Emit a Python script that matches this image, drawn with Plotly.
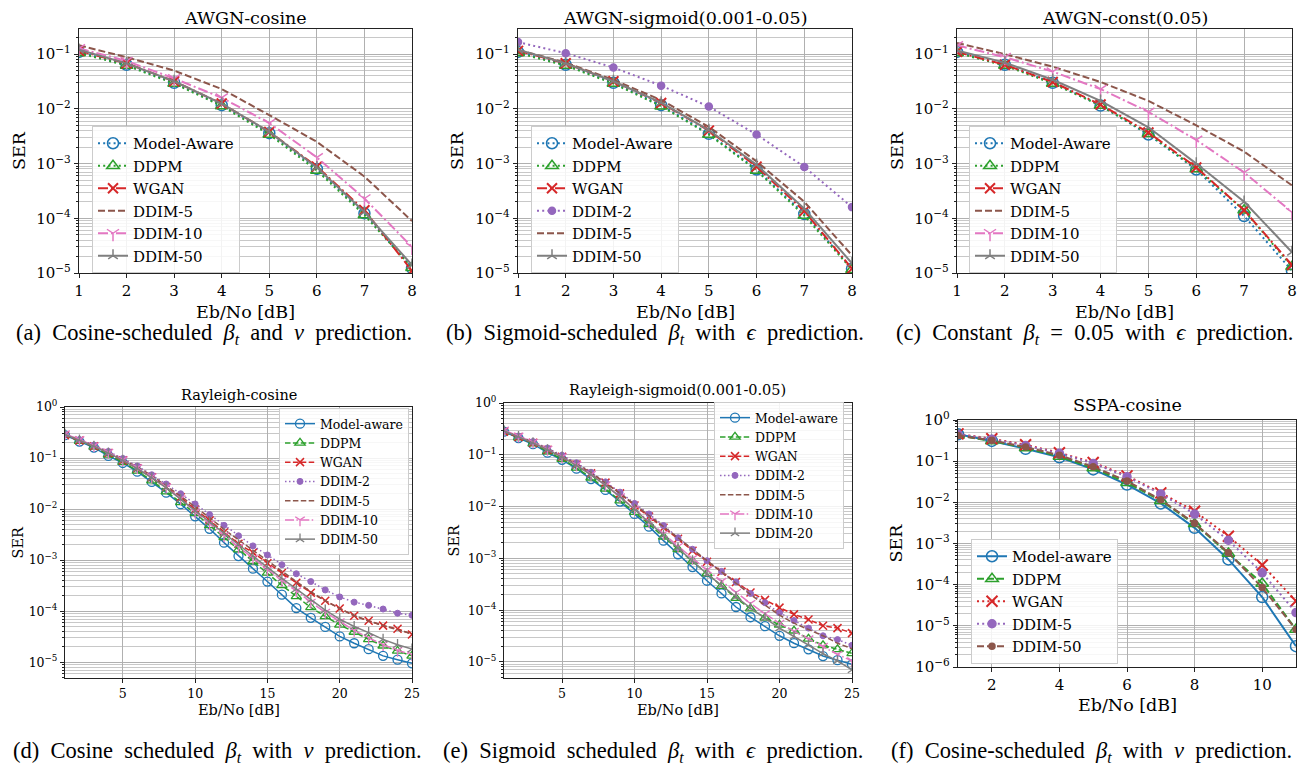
import plotly.graph_objects as go

W, H = 1312, 769
OFF = 8  # page body margin: the figure is drawn 8px right/down of the window corner
SERIF = "DejaVu Serif"
CAPF = "Liberation Serif"

# ---------------- data ----------------
x_awgn = [1, 2, 3, 4, 5, 6, 7, 8]
x_ray = list(range(1, 26))
x_sspa = [1, 2, 3, 4, 5, 6, 7, 8, 9, 10, 11]

# (a) AWGN-cosine
a_model = [0.11, 0.064, 0.030, 0.0117, 0.0036, 0.00080, 0.000123, 1.23e-5]
a_ddpm = [0.105, 0.062, 0.029, 0.0113, 0.0034, 0.00075, 0.000115, 1.25e-5]
a_wgan = [0.115, 0.068, 0.032, 0.0125, 0.0038, 0.00088, 0.00014, 1.1e-5]
a_ddim5 = [0.145, 0.088, 0.050, 0.023, 0.0077, 0.0025, 0.00058, 8.9e-5]
a_ddim10 = [0.128, 0.075, 0.036, 0.016, 0.0055, 0.0013, 0.00023, 3.0e-5]
a_ddim50 = [0.12, 0.068, 0.032, 0.0125, 0.0038, 0.00085, 0.00013, 1.4e-5]

# (b) AWGN-sigmoid(0.001-0.05)
b_model = [0.11, 0.064, 0.030, 0.0117, 0.0035, 0.00078, 0.00012, 1.2e-5]
b_ddpm = [0.105, 0.062, 0.029, 0.0112, 0.0034, 0.00075, 0.000112, 1.15e-5]
b_wgan = [0.115, 0.068, 0.032, 0.0128, 0.0040, 0.00088, 0.000135, 1.2e-5]
b_ddim2 = [0.166, 0.104, 0.057, 0.0266, 0.011, 0.0034, 0.00087, 0.00016]
b_ddim5 = [0.12, 0.07, 0.034, 0.0145, 0.0047, 0.0011, 0.0002, 2.1e-5]
b_ddim50 = [0.12, 0.068, 0.032, 0.013, 0.0041, 0.00095, 0.00015, 1.5e-5]

# (c) AWGN-const(0.05)
c_model = [0.11, 0.064, 0.030, 0.0115, 0.0034, 0.00078, 0.00011, 1.1e-5]
c_ddpm = [0.105, 0.062, 0.029, 0.0115, 0.0035, 0.0008, 0.00014, 1.3e-5]
c_wgan = [0.11, 0.064, 0.031, 0.012, 0.0037, 0.00085, 0.00014, 1.4e-5]
c_ddim5 = [0.16, 0.10, 0.059, 0.031, 0.014, 0.005, 0.00165, 0.0004]
c_ddim10 = [0.145, 0.088, 0.048, 0.023, 0.0088, 0.0027, 0.00069, 0.000129]
c_ddim50 = [0.117, 0.07, 0.034, 0.014, 0.0046, 0.001, 0.0002, 2.4e-5]

# (d) Rayleigh-cosine
d_model = [0.28, 0.21, 0.16, 0.11, 0.08, 0.054, 0.034, 0.021, 0.0125, 0.0072, 0.0041, 0.0022, 0.0012,
           0.00068, 0.00038, 0.00021, 0.000115, 7.4e-5, 4.9e-5, 3.2e-5, 2.35e-5, 1.8e-5, 1.33e-5, 1.12e-5, 9.5e-6]
d_ddpm = [0.28, 0.215, 0.165, 0.115, 0.083, 0.056, 0.036, 0.022, 0.0135, 0.0083, 0.0048, 0.0028, 0.0016,
          0.00094, 0.00056, 0.00032, 0.000195, 0.000118, 7.9e-5, 5.4e-5, 3.9e-5, 2.8e-5, 2.1e-5, 1.66e-5, 1.33e-5]
d_wgan = [0.28, 0.22, 0.17, 0.125, 0.09, 0.063, 0.042, 0.027, 0.017, 0.0098, 0.006, 0.0035, 0.0021,
          0.0014, 0.00087, 0.00056, 0.00036, 0.00023, 0.00016, 0.000113, 8.1e-5, 6.5e-5, 5.2e-5, 4.5e-5, 3.5e-5]
d_ddim2 = [0.29, 0.23, 0.18, 0.135, 0.098, 0.07, 0.047, 0.031, 0.02, 0.0126, 0.0078, 0.0048, 0.003,
           0.0019, 0.00126, 0.00081, 0.00054, 0.00038, 0.00026, 0.00019, 0.00015, 0.00013, 0.00011, 9.1e-5, 8.3e-5]
d_ddim5 = [0.29, 0.225, 0.175, 0.13, 0.095, 0.067, 0.045, 0.029, 0.018, 0.011, 0.0068, 0.004, 0.0025,
           0.0015, 0.00095, 0.0006, 0.00038, 0.00024, 0.00016, 0.000112, 8.2e-5, 6.4e-5, 5.2e-5, 4.3e-5, 3.6e-5]
d_ddim10 = [0.3, 0.23, 0.175, 0.13, 0.093, 0.065, 0.043, 0.027, 0.016, 0.0088, 0.0052, 0.003, 0.0018,
            0.0011, 0.00065, 0.0004, 0.00025, 0.00015, 9.5e-5, 6.2e-5, 4.2e-5, 3.0e-5, 2.2e-5, 1.7e-5, 1.4e-5]
d_ddim50 = [0.29, 0.225, 0.17, 0.125, 0.09, 0.062, 0.041, 0.026, 0.0155, 0.0092, 0.0055, 0.0033, 0.002,
            0.0012, 0.00072, 0.00044, 0.00027, 0.000165, 0.000105, 7.0e-5, 5.0e-5, 3.8e-5, 2.8e-5, 2.2e-5, 1.8e-5]

# (e) Rayleigh-sigmoid(0.001-0.05)
e_model = [0.28, 0.21, 0.16, 0.11, 0.08, 0.054, 0.034, 0.021, 0.0125, 0.0072, 0.0041, 0.0022, 0.0012,
           0.00068, 0.00037, 0.00021, 0.000115, 7.3e-5, 4.9e-5, 3.2e-5, 2.3e-5, 1.75e-5, 1.3e-5, 1.08e-5, 9.0e-6]
e_ddpm = [0.28, 0.215, 0.165, 0.115, 0.083, 0.056, 0.036, 0.022, 0.013, 0.0078, 0.0046, 0.0026, 0.0015,
          0.00088, 0.00051, 0.00029, 0.00017, 0.000107, 7.1e-5, 5.2e-5, 4.0e-5, 2.8e-5, 2.1e-5, 1.75e-5, 1.47e-5]
e_wgan = [0.28, 0.22, 0.17, 0.125, 0.092, 0.065, 0.044, 0.029, 0.018, 0.0105, 0.0064, 0.0039, 0.0024,
          0.0014, 0.00086, 0.00055, 0.00035, 0.00022, 0.000158, 0.000112, 8.3e-5, 6.6e-5, 5.0e-5, 4.5e-5, 3.6e-5]
e_ddim2 = [0.29, 0.23, 0.18, 0.135, 0.098, 0.07, 0.046, 0.03, 0.019, 0.0115, 0.0072, 0.0043, 0.0025,
           0.0015, 0.0009, 0.00056, 0.00035, 0.00021, 0.000139, 8.9e-5, 6.3e-5, 4.5e-5, 3.2e-5, 2.7e-5, 2.1e-5]
e_ddim5 = [0.29, 0.225, 0.175, 0.13, 0.095, 0.067, 0.045, 0.029, 0.018, 0.011, 0.0068, 0.0041, 0.0025,
           0.0015, 0.0009, 0.00055, 0.00033, 0.0002, 0.000125, 8.0e-5, 5.6e-5, 4.2e-5, 3.2e-5, 2.3e-5, 1.8e-5]
e_ddim10 = [0.3, 0.23, 0.175, 0.128, 0.092, 0.064, 0.042, 0.026, 0.0155, 0.009, 0.0052, 0.003, 0.0017,
            0.001, 0.0006, 0.00036, 0.00022, 0.000135, 8.5e-5, 5.6e-5, 3.9e-5, 2.8e-5, 2.0e-5, 1.4e-5, 1.05e-5]
e_ddim20 = [0.29, 0.225, 0.17, 0.125, 0.09, 0.062, 0.041, 0.026, 0.0155, 0.0088, 0.005, 0.0028, 0.0016,
            0.0009, 0.0005, 0.0003, 0.00018, 0.00011, 7.0e-5, 4.5e-5, 3.1e-5, 2.1e-5, 1.45e-5, 1.05e-5, 7.0e-6]

# (f) SSPA-cosine
f_model = [0.45, 0.31, 0.2, 0.124, 0.063, 0.027, 0.0094, 0.0024, 0.00041, 5.0e-5, 3.2e-6]
f_ddpm = [0.42, 0.31, 0.21, 0.13, 0.068, 0.03, 0.011, 0.003, 0.00057, 0.000107, 8.1e-6]
f_wgan = [0.46, 0.35, 0.25, 0.16, 0.093, 0.044, 0.017, 0.0061, 0.0015, 0.0003, 4.0e-5]
f_ddim5 = [0.45, 0.34, 0.24, 0.155, 0.088, 0.042, 0.016, 0.0052, 0.0012, 0.000194, 2.1e-5]
f_ddim50 = [0.42, 0.32, 0.22, 0.14, 0.073, 0.033, 0.0115, 0.0031, 0.0006, 8.5e-5, 8.1e-6]

titles = ["AWGN-cosine", "AWGN-sigmoid(0.001-0.05)", "AWGN-const(0.05)",
          "Rayleigh-cosine", "Rayleigh-sigmoid(0.001-0.05)", "SSPA-cosine"]
captions = [
    "(a) Cosine-scheduled <i>β<sub>t</sub></i> and <i>v</i> prediction.",
    "(b) Sigmoid-scheduled <i>β<sub>t</sub></i> with <i>ϵ</i> prediction.",
    "(c) Constant <i>β<sub>t</sub></i> = 0.05 with <i>ϵ</i> prediction.",
    "(d) Cosine scheduled <i>β<sub>t</sub></i> with <i>v</i> prediction.",
    "(e) Sigmoid scheduled <i>β<sub>t</sub></i> with <i>ϵ</i> prediction.",
    "(f) Cosine-scheduled <i>β<sub>t</sub></i> with <i>v</i> prediction.",
]
xlabel = "Eb/No [dB]"
ylabel = "SER"
top_xticks = [1, 2, 3, 4, 5, 6, 7, 8]
ray_xticks = [5, 10, 15, 20, 25]
sspa_xticks = [2, 4, 6, 8, 10]
top_exps = [-5, -4, -3, -2, -1]
ray_exps = [-5, -4, -3, -2, -1, 0]
sspa_exps = [-6, -5, -4, -3, -2, -1, 0]

# ---------------- styles ----------------
BLUE, GREEN, RED, PURPLE, BROWN, PINK, GRAY = ("#1f77b4", "#2ca02c", "#d62728", "#9467bd",
                                              "#8c564b", "#e377c2", "#7f7f7f")


def fx(p):
    return (p - OFF) / W


def fy(p):
    return 1 - (p - OFF) / H


def st(color, dash, symbol=None, size=0, mlw=1.5, lw=2.0):
    return dict(color=color, dash=dash, symbol=symbol, size=size, mlw=mlw, lw=lw)


DOT2, DASH2, DD2 = "2px,3.2px", "7px,3px", "10px,3px,2px,3px"
DOT15, DASH15, DD15 = "1.5px,2.5px", "5.5px,2.4px", "9px,2.4px,1.5px,2.4px"

top_style = {
    "Model-Aware": st(BLUE, DOT2, "circle-open", 11),
    "DDPM": st(GREEN, DOT2, "triangle-up-open", 11),
    "WGAN": st(RED, DD2, "x-thin-open", 10, 2),
    "DDIM-2": st(PURPLE, DOT2, "circle", 7),
    "DDIM-5": st(BROWN, DASH2),
    "DDIM-10": st(PINK, DD2, "y-down-open", 10),
    "DDIM-50": st(GRAY, "solid", "y-up-open", 8),
}
ray_style = {
    "Model-aware": st(BLUE, "solid", "circle-open", 9, 1.3, 1.5),
    "DDPM": st(GREEN, DASH15, "triangle-up-open", 9, 1.3, 1.5),
    "WGAN": st(RED, DASH15, "x-thin-open", 8, 1.5, 1.5),
    "DDIM-2": st(PURPLE, DOT15, "circle", 6, 1, 1.5),
    "DDIM-5": st(BROWN, DASH15, None, 0, 1, 1.5),
    "DDIM-10": st(PINK, DD15, "y-down-open", 8, 1.3, 1.5),
    "DDIM-50": st(GRAY, "solid", "y-up-open", 7, 1.3, 1.5),
    "DDIM-20": st(GRAY, "solid", "y-up-open", 7, 1.3, 1.5),
}
sspa_style = {
    "Model-aware": st(BLUE, "solid", "circle-open", 11),
    "DDPM": st(GREEN, DASH2, "triangle-up-open", 11),
    "WGAN": st(RED, DOT2, "x-thin-open", 11, 2),
    "DDIM-5": st(PURPLE, DOT2, "circle", 8),
    "DDIM-50": st(BROWN, DASH2, "circle", 6),
}

panels = [
    dict(x=x_awgn, series=[("Model-Aware", a_model), ("DDPM", a_ddpm), ("WGAN", a_wgan), ("DDIM-5", a_ddim5),
                           ("DDIM-10", a_ddim10), ("DDIM-50", a_ddim50)],
         style=top_style, box=(79, 29, 412, 273), xr=[1, 8], yr=[-5, -0.54], xt=top_xticks, ye=top_exps,
         leg=(92, 126), lfs=15, tfs=15, big=True, title_y=18, xl_y=312, yl_x=19, lw=1.4),
    dict(x=x_awgn, series=[("Model-Aware", b_model), ("DDPM", b_ddpm), ("WGAN", b_wgan), ("DDIM-2", b_ddim2),
                           ("DDIM-5", b_ddim5), ("DDIM-50", b_ddim50)],
         style=top_style, box=(518, 29, 852, 273), xr=[1, 8], yr=[-5, -0.54], xt=top_xticks, ye=top_exps,
         leg=(531, 126), lfs=15, tfs=15, big=True, title_y=18, xl_y=312, yl_x=457, lw=1.4),
    dict(x=x_awgn, series=[("Model-Aware", c_model), ("DDPM", c_ddpm), ("WGAN", c_wgan), ("DDIM-5", c_ddim5),
                           ("DDIM-10", c_ddim10), ("DDIM-50", c_ddim50)],
         style=top_style, box=(957, 29, 1292, 273), xr=[1, 8], yr=[-5, -0.54], xt=top_xticks, ye=top_exps,
         leg=(969, 126), lfs=15, tfs=15, big=True, title_y=18, xl_y=312, yl_x=897, lw=1.4),
    dict(x=x_ray, series=[("Model-aware", d_model), ("DDPM", d_ddpm), ("WGAN", d_wgan), ("DDIM-2", d_ddim2),
                          ("DDIM-5", d_ddim5), ("DDIM-10", d_ddim10), ("DDIM-50", d_ddim50)],
         style=ray_style, box=(65, 407, 412, 678), xr=[1, 25], yr=[-5.31, 0], xt=ray_xticks, ye=ray_exps,
         leg=(279, 408), lfs=12.5, tfs=12.5, big=False, title_y=395, xl_y=710, yl_x=17, lw=1.1),
    dict(x=x_ray, series=[("Model-aware", e_model), ("DDPM", e_ddpm), ("WGAN", e_wgan), ("DDIM-2", e_ddim2),
                          ("DDIM-5", e_ddim5), ("DDIM-10", e_ddim10), ("DDIM-20", e_ddim20)],
         style=ray_style, box=(504, 403, 852, 678), xr=[1, 25], yr=[-5.31, 0], xt=ray_xticks, ye=ray_exps,
         leg=(714, 402), lfs=12.5, tfs=12.5, big=False, title_y=390, xl_y=710, yl_x=453, lw=1.1),
    dict(x=x_sspa, series=[("Model-aware", f_model), ("DDPM", f_ddpm), ("WGAN", f_wgan), ("DDIM-5", f_ddim5),
                           ("DDIM-50", f_ddim50)],
         style=sspa_style, box=(958, 420, 1296, 667), xr=[1, 11], yr=[-6, 0], xt=sspa_xticks, ye=sspa_exps,
         leg=(971, 539), lfs=15, tfs=15, big=True, title_y=405, xl_y=705, yl_x=895, lw=1.4),
]
cap_pos = [(214, 334), (655, 334), (1094, 334), (217, 752), (653, 752), (1091, 752)]

fig = go.Figure()
layout = dict(width=W, height=H, margin=dict(l=0, r=0, t=0, b=0, pad=0, autoexpand=False),
              paper_bgcolor="white", plot_bgcolor="white", showlegend=True, annotations=[])

for i, p in enumerate(panels):
    n = i + 1
    sfx = "" if n == 1 else str(n)
    xa, ya = "x" + sfx, "y" + sfx
    lg = "legend" + sfx
    x0, y0, x1, y1 = p["box"]
    tf = dict(family=SERIF, size=p["tfs"], color="#000")
    layout["xaxis" + sfx] = dict(
        domain=[fx(x0), fx(x1)], anchor=ya, range=p["xr"], tickmode="array", tickvals=p["xt"],
        ticktext=[str(v) for v in p["xt"]], showgrid=True, gridcolor="#b0b0b0", gridwidth=1,
        showline=True, mirror=True, linecolor="#222", linewidth=p["lw"], ticks="outside", ticklen=4,
        tickwidth=1, tickcolor="#222", tickfont=tf, zeroline=False, fixedrange=True, automargin=False)
    layout["yaxis" + sfx] = dict(
        domain=[fy(y1), fy(y0)], anchor=xa, type="log", range=p["yr"], tickmode="array",
        tickvals=[10.0 ** e for e in p["ye"]],
        ticktext=["10<sup>%s</sup>" % str(e).replace("-", "−") for e in p["ye"]],
        showgrid=True, gridcolor="#b0b0b0", gridwidth=1, showline=True, mirror=True, linecolor="#222",
        linewidth=p["lw"], ticks="outside", ticklen=4, tickwidth=1, tickcolor="#222", tickfont=tf,
        zeroline=False, fixedrange=True, automargin=False,
        minor=dict(dtick="D1", ticks="outside", ticklen=2, tickwidth=0.8, tickcolor="#222",
                   showgrid=True, gridcolor="#c8c8c8", gridwidth=1))
    layout[lg] = dict(x=fx(p["leg"][0]), y=fy(p["leg"][1]), xanchor="left", yanchor="top",
                      bgcolor="rgba(255,255,255,0.85)", bordercolor="#cccccc", borderwidth=1,
                      font=dict(family=SERIF, size=p["lfs"], color="#000"), itemwidth=30,
                      tracegroupgap=0)
    for name, vals in p["series"]:
        s = p["style"][name]
        mode = "lines+markers" if s["symbol"] else "lines"
        mk = dict(symbol=s["symbol"] or "circle", size=s["size"] or 1, color=s["color"],
                  line=dict(width=s["mlw"], color=s["color"]))
        fig.add_trace(go.Scatter(x=p["x"], y=vals, name=name, mode=mode, xaxis=xa, yaxis=ya, legend=lg,
                                 line=dict(color=s["color"], width=s["lw"], dash=s["dash"]), marker=mk,
                                 hoverinfo="skip"))
    big = p["big"]
    fs_t = 17.5 if big else 14.5
    cx = (x0 + x1) / 2
    cy = (y0 + y1) / 2
    cap = captions[i].replace(" ", "\u00a0 ")
    layout["annotations"] += [
        dict(text=titles[i], x=fx(cx), y=fy(p["title_y"]), xref="paper", yref="paper", showarrow=False,
             xanchor="center", yanchor="middle", borderpad=0,
             font=dict(family=SERIF, size=fs_t, color="#000")),
        dict(text=xlabel, x=fx(cx), y=fy(p["xl_y"]), xref="paper", yref="paper", showarrow=False,
             xanchor="center", yanchor="middle", font=dict(family=SERIF, size=fs_t, color="#000")),
        dict(text=ylabel, x=fx(p["yl_x"]), y=fy(cy), xref="paper", yref="paper", showarrow=False,
             textangle=-90, xanchor="center", yanchor="middle", borderpad=0,
             font=dict(family=SERIF, size=fs_t, color="#000")),
        dict(text=cap, x=fx(cap_pos[i][0]), y=fy(cap_pos[i][1]), xref="paper", yref="paper",
             showarrow=False, xanchor="center", yanchor="middle",
             font=dict(family=CAPF, size=22.5, color="#000")),
    ]

fig.update_layout(**layout)
fig.write_html("out.html")
